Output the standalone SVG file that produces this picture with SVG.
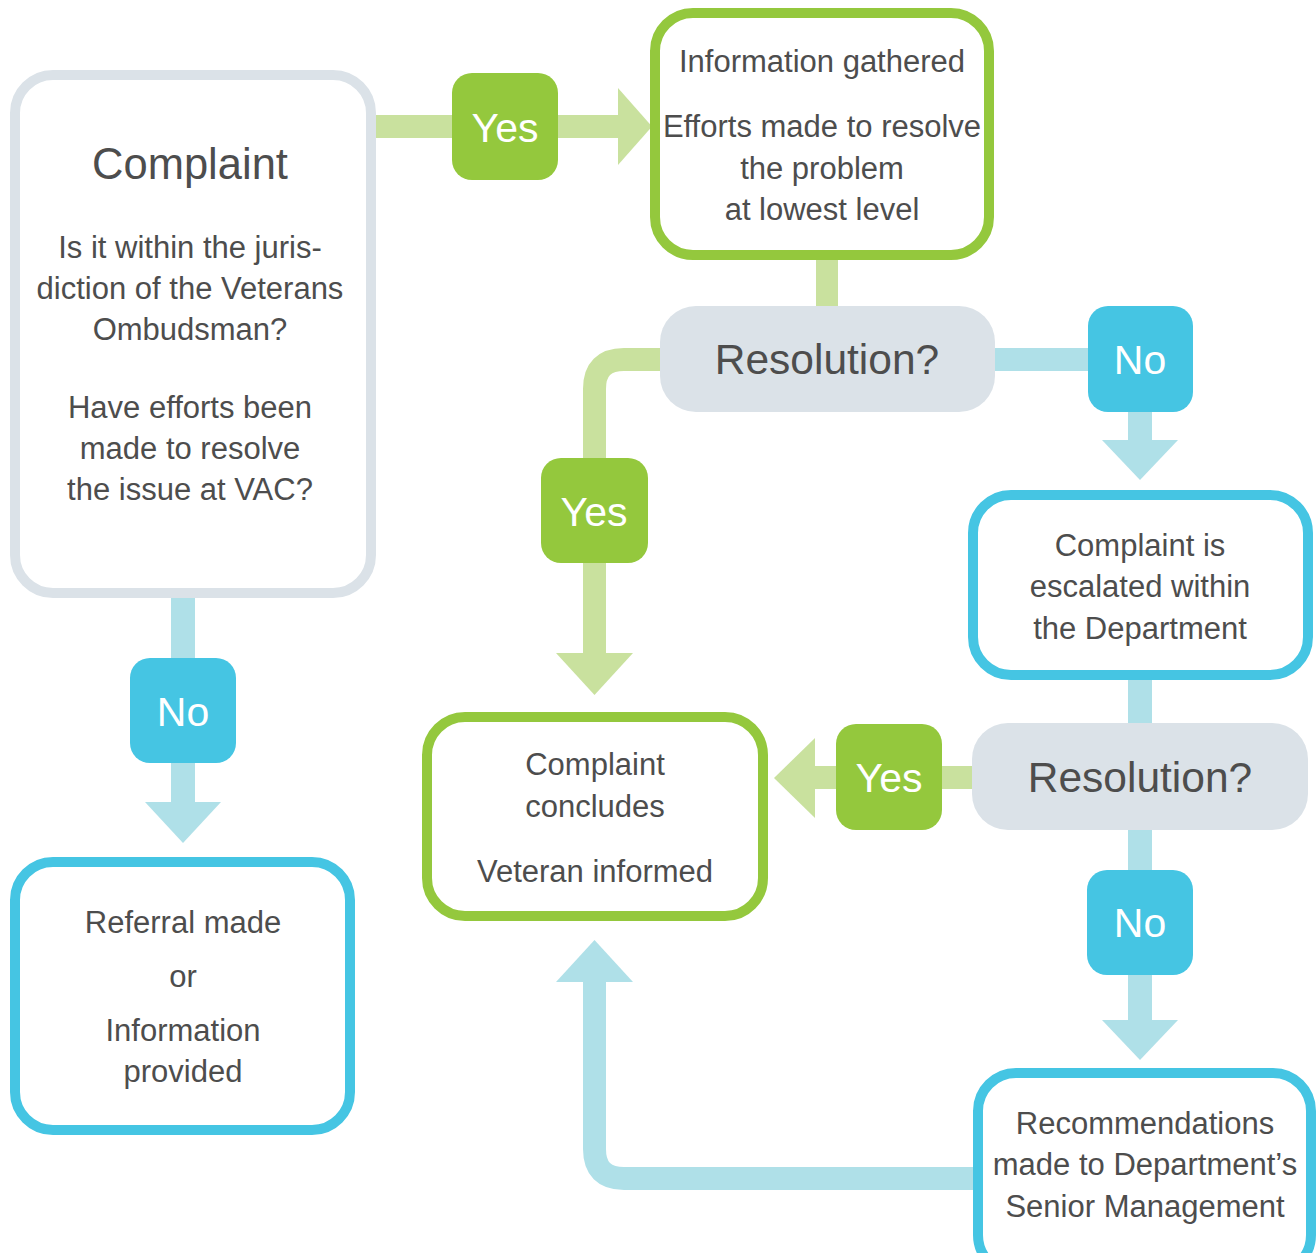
<svg xmlns="http://www.w3.org/2000/svg" width="1316" height="1253" viewBox="0 0 1316 1253">
<style>
.lg{fill:#c9e19e}
.lc{fill:#afe0e8}
.lgs{fill:none;stroke:#c9e19e;stroke-width:23}
.lcs{fill:none;stroke:#afe0e8;stroke-width:23}
.box{fill:#ffffff;stroke-width:10}
.bg{stroke:#94c83d}
.bc{stroke:#45c5e3}
.bgray{stroke:#dbe2e8}
.dec{fill:#dbe2e8}
.yes{fill:#94c83d}
.no{fill:#45c5e3}
.t{font-family:"Liberation Sans",Arial,sans-serif;font-size:31px;fill:#4d4d4d;text-anchor:middle}
.big{font-family:"Liberation Sans",Arial,sans-serif;font-size:42.5px;fill:#4d4d4d;text-anchor:middle}
.ttl{font-family:"Liberation Sans",Arial,sans-serif;font-size:43.5px;fill:#4d4d4d;text-anchor:middle}
.lbl{font-family:"Liberation Sans",Arial,sans-serif;font-size:41px;fill:#ffffff;text-anchor:middle}
</style>
<rect width="1316" height="1253" fill="#ffffff"/>
<g id="connectors">
  <rect class="lg" x="371" y="115" width="254" height="23"/>
  <polygon class="lg" points="618,88 652,126.5 618,165"/>
  <rect class="lg" x="816" y="255" width="22" height="56"/>
  <rect class="lc" x="990" y="348" width="103" height="23"/>
  <rect class="lc" x="1128" y="410" width="24" height="32"/>
  <polygon class="lc" points="1102,440 1178,440 1140,480"/>
  <path class="lgs" d="M665,359.5 H624 Q594.5,359.5 594.5,389 V660"/>
  <polygon class="lg" points="556,653 633,653 594.5,695"/>
  <rect class="lc" x="1128" y="675" width="24" height="53"/>
  <rect class="lg" x="810" y="766" width="167" height="23"/>
  <polygon class="lg" points="815,738 815,818 774,778"/>
  <rect class="lc" x="1128" y="825" width="24" height="197"/>
  <polygon class="lc" points="1102,1020 1178,1020 1140,1060"/>
  <path class="lcs" d="M980,1178.5 H624 Q594.5,1178.5 594.5,1149 V978"/>
  <polygon class="lc" points="556,982 633,982 594.5,940"/>
  <rect class="lc" x="171" y="593" width="24" height="212"/>
  <polygon class="lc" points="145,802 221,802 183,843"/>
</g>
<g id="complaint">
  <rect class="box bgray" x="15" y="75" width="356" height="518" rx="38"/>
  <text class="ttl" x="190" y="179">Complaint</text>
  <text class="t" x="190" y="258">Is it within the juris-</text>
  <text class="t" x="190" y="299">diction of the Veterans</text>
  <text class="t" x="190" y="340">Ombudsman?</text>
  <text class="t" x="190" y="418">Have efforts been</text>
  <text class="t" x="190" y="459">made to resolve</text>
  <text class="t" x="190" y="500">the issue at VAC?</text>
</g>
<g id="yes1">
  <rect class="yes" x="452" y="73" width="106" height="107" rx="20"/>
  <text class="lbl" x="505" y="142">Yes</text>
</g>
<g id="info">
  <rect class="box bg" x="655" y="13" width="334" height="242" rx="38"/>
  <text class="t" x="822" y="72">Information gathered</text>
  <text class="t" x="822" y="137">Efforts made to resolve</text>
  <text class="t" x="822" y="179">the problem</text>
  <text class="t" x="822" y="220">at lowest level</text>
</g>
<g id="resolution1">
  <rect class="dec" x="660" y="306" width="335" height="106" rx="36"/>
  <text class="big" x="827" y="374">Resolution?</text>
</g>
<g id="no1">
  <rect class="no" x="1088" y="306" width="105" height="106" rx="20"/>
  <text class="lbl" x="1140" y="374">No</text>
</g>
<g id="yes2">
  <rect class="yes" x="541" y="458" width="107" height="105" rx="20"/>
  <text class="lbl" x="594" y="526">Yes</text>
</g>
<g id="escalated">
  <rect class="box bc" x="973" y="495" width="335" height="180" rx="38"/>
  <text class="t" x="1140" y="556">Complaint is</text>
  <text class="t" x="1140" y="597">escalated within</text>
  <text class="t" x="1140" y="639">the Department</text>
</g>
<g id="resolution2">
  <rect class="dec" x="972" y="723" width="336" height="107" rx="36"/>
  <text class="big" x="1140" y="792">Resolution?</text>
</g>
<g id="yes3">
  <rect class="yes" x="836" y="724" width="106" height="106" rx="20"/>
  <text class="lbl" x="889" y="792">Yes</text>
</g>
<g id="concludes">
  <rect class="box bg" x="427" y="717" width="336" height="199" rx="38"/>
  <text class="t" x="595" y="775">Complaint</text>
  <text class="t" x="595" y="817">concludes</text>
  <text class="t" x="595" y="882">Veteran informed</text>
</g>
<g id="no2">
  <rect class="no" x="1087" y="870" width="106" height="105" rx="20"/>
  <text class="lbl" x="1140" y="937">No</text>
</g>
<g id="recommendations">
  <rect class="box bc" x="978" y="1073" width="333" height="200" rx="38"/>
  <text class="t" x="1145" y="1134">Recommendations</text>
  <text class="t" x="1145" y="1175">made to Department’s</text>
  <text class="t" x="1145" y="1217">Senior Management</text>
</g>
<g id="no3">
  <rect class="no" x="130" y="658" width="106" height="105" rx="20"/>
  <text class="lbl" x="183" y="726">No</text>
</g>
<g id="referral">
  <rect class="box bc" x="15" y="862" width="335" height="268" rx="38"/>
  <text class="t" x="183" y="933">Referral made</text>
  <text class="t" x="183" y="987">or</text>
  <text class="t" x="183" y="1041">Information</text>
  <text class="t" x="183" y="1082">provided</text>
</g>
</svg>
